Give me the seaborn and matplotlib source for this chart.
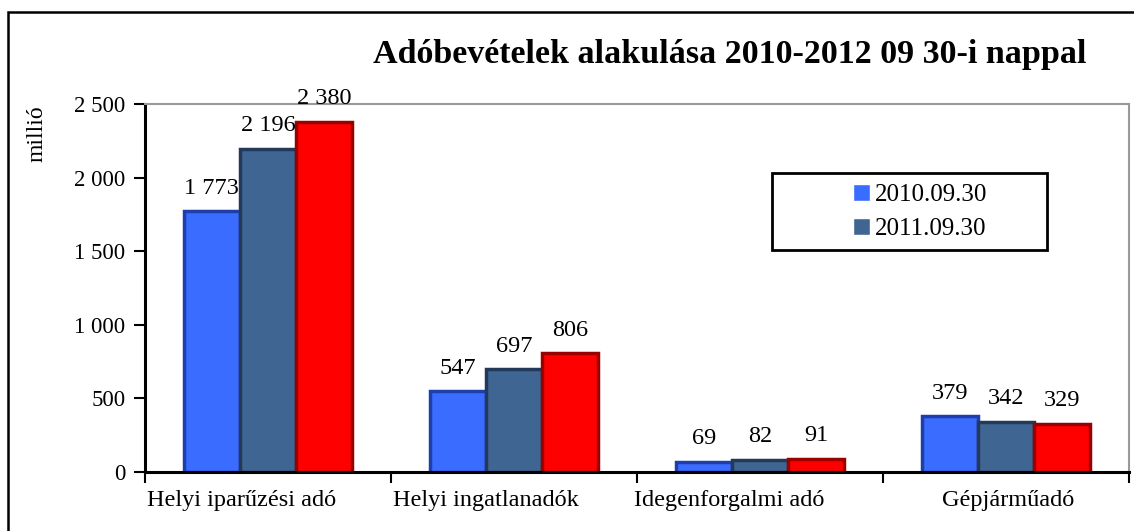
import matplotlib
matplotlib.use("Agg")
import matplotlib.pyplot as plt
import matplotlib.transforms as mtransforms
from matplotlib.patches import Rectangle
import seaborn as sns
import pandas as pd

categories = ["Helyi iparűzési adó", "Helyi ingatlanadók", "Idegenforgalmi adó", "Gépjárműadó"]
years = ["2010.09.30", "2011.09.30", "2012.09.30"]
v2010 = [1773, 547, 69, 379]
v2011 = [2196, 697, 82, 342]
v2012 = [2380, 806, 91, 329]
yticks = [0, 500, 1000, 1500, 2000, 2500]
title = "Adóbevételek alakulása 2010-2012 09 30-i nappal"
ylabel = "millió"

rows = []
for yr, vals in zip(years, [v2010, v2011, v2012]):
    for c, v in zip(categories, vals):
        rows.append({"cat": c, "year": yr, "value": v})
df = pd.DataFrame(rows)

colors = ["#3A6CFF", "#3F6592", "#FF0000"]
edges = ["#1E3FAA", "#22395A", "#990000"]

sns.set_theme(style="white")
plt.rcParams["font.family"] = ["Liberation Serif", "DejaVu Serif"]
plt.rcParams["text.color"] = "black"
plt.rcParams["axes.labelcolor"] = "black"
plt.rcParams["xtick.color"] = "black"
plt.rcParams["ytick.color"] = "black"

fig = plt.figure(figsize=(11.34, 5.31), dpi=100)
ax = fig.add_axes([145/1134, 1-472/531, (1129-145)/1134, (472-104)/531])

sns.barplot(data=df, x="cat", y="value", hue="year", order=categories,
            hue_order=years, palette=colors, width=0.684, ax=ax,
            saturation=1, errorbar=None, legend=True)

for i, cont in enumerate(ax.containers):
    for bar in cont:
        bar.set_edgecolor(edges[i])
        bar.set_linewidth(2.5)
    labels = [f"{int(v):,}".replace(",", " ") for v in cont.datavalues]
    ax.bar_label(cont, labels=labels, padding=9, fontsize=17.5, color="black")

ax.set_ylim(0, 2500)
ax.set_xlim(-0.5, 3.5)
ax.set_yticks(yticks)
ax.set_yticklabels([f"{v:,}".replace(",", " ") for v in yticks], fontsize=16.5, color="black")
ax.tick_params(axis="y", direction="out", length=8, width=1.5, color="black", pad=6, left=True)
ax.set_xticks(range(len(categories)))
ax.set_xticklabels(categories, fontsize=17.5, color="black")
ax.tick_params(axis="x", which="major", length=0, pad=13)
ax.set_xticks([-0.5, 0.5, 1.5, 2.5, 3.5], minor=True)
ax.tick_params(axis="x", which="minor", direction="out", length=8, width=1.5, color="black", bottom=True)

offsets = [-26, -28, -31, 2]
for lab, dx in zip(ax.get_xticklabels(), offsets):
    lab.set_transform(lab.get_transform() + mtransforms.ScaledTranslation(dx/100, 0, fig.dpi_scale_trans))

ax.set_xlabel("")
ax.set_ylabel(ylabel, fontsize=17, color="black")
ax.yaxis.set_label_coords(-0.099, 0.92)

for s in ["left", "bottom"]:
    ax.spines[s].set_color("black")
    ax.spines[s].set_linewidth(2.2)
for s in ["top", "right"]:
    ax.spines[s].set_color("#999999")
    ax.spines[s].set_linewidth(1.5)

# legend (only two entries visible in the reference)
handles, labs = ax.get_legend_handles_labels()
ax.get_legend().remove()
fig.patches.append(Rectangle((772/1134, 1-250/531), 275/1134, 77/531,
                             transform=fig.transFigure, fill=False,
                             edgecolor="black", linewidth=2))
leg = fig.legend(handles[:2], labs[:2], loc="center left",
                 bbox_to_anchor=(840/1134, 1-212/531), frameon=False,
                 fontsize=18, handlelength=0.7, handleheight=0.7,
                 handletextpad=0.2, labelspacing=0.45, borderpad=0)
for t in leg.get_texts():
    t.set_color("black")

# outer chart frame (cut at the right and bottom)
fig.patches.append(Rectangle((8/1134, -0.1), 1.2, 1-12/531+0.1,
                             transform=fig.transFigure, fill=False,
                             edgecolor="black", linewidth=1.8))

fig.text(730/1134, 1-55/531, title, ha="center", va="center",
         fontsize=24.5, fontweight="bold", color="black")

fig.savefig("out.png", dpi=100)
